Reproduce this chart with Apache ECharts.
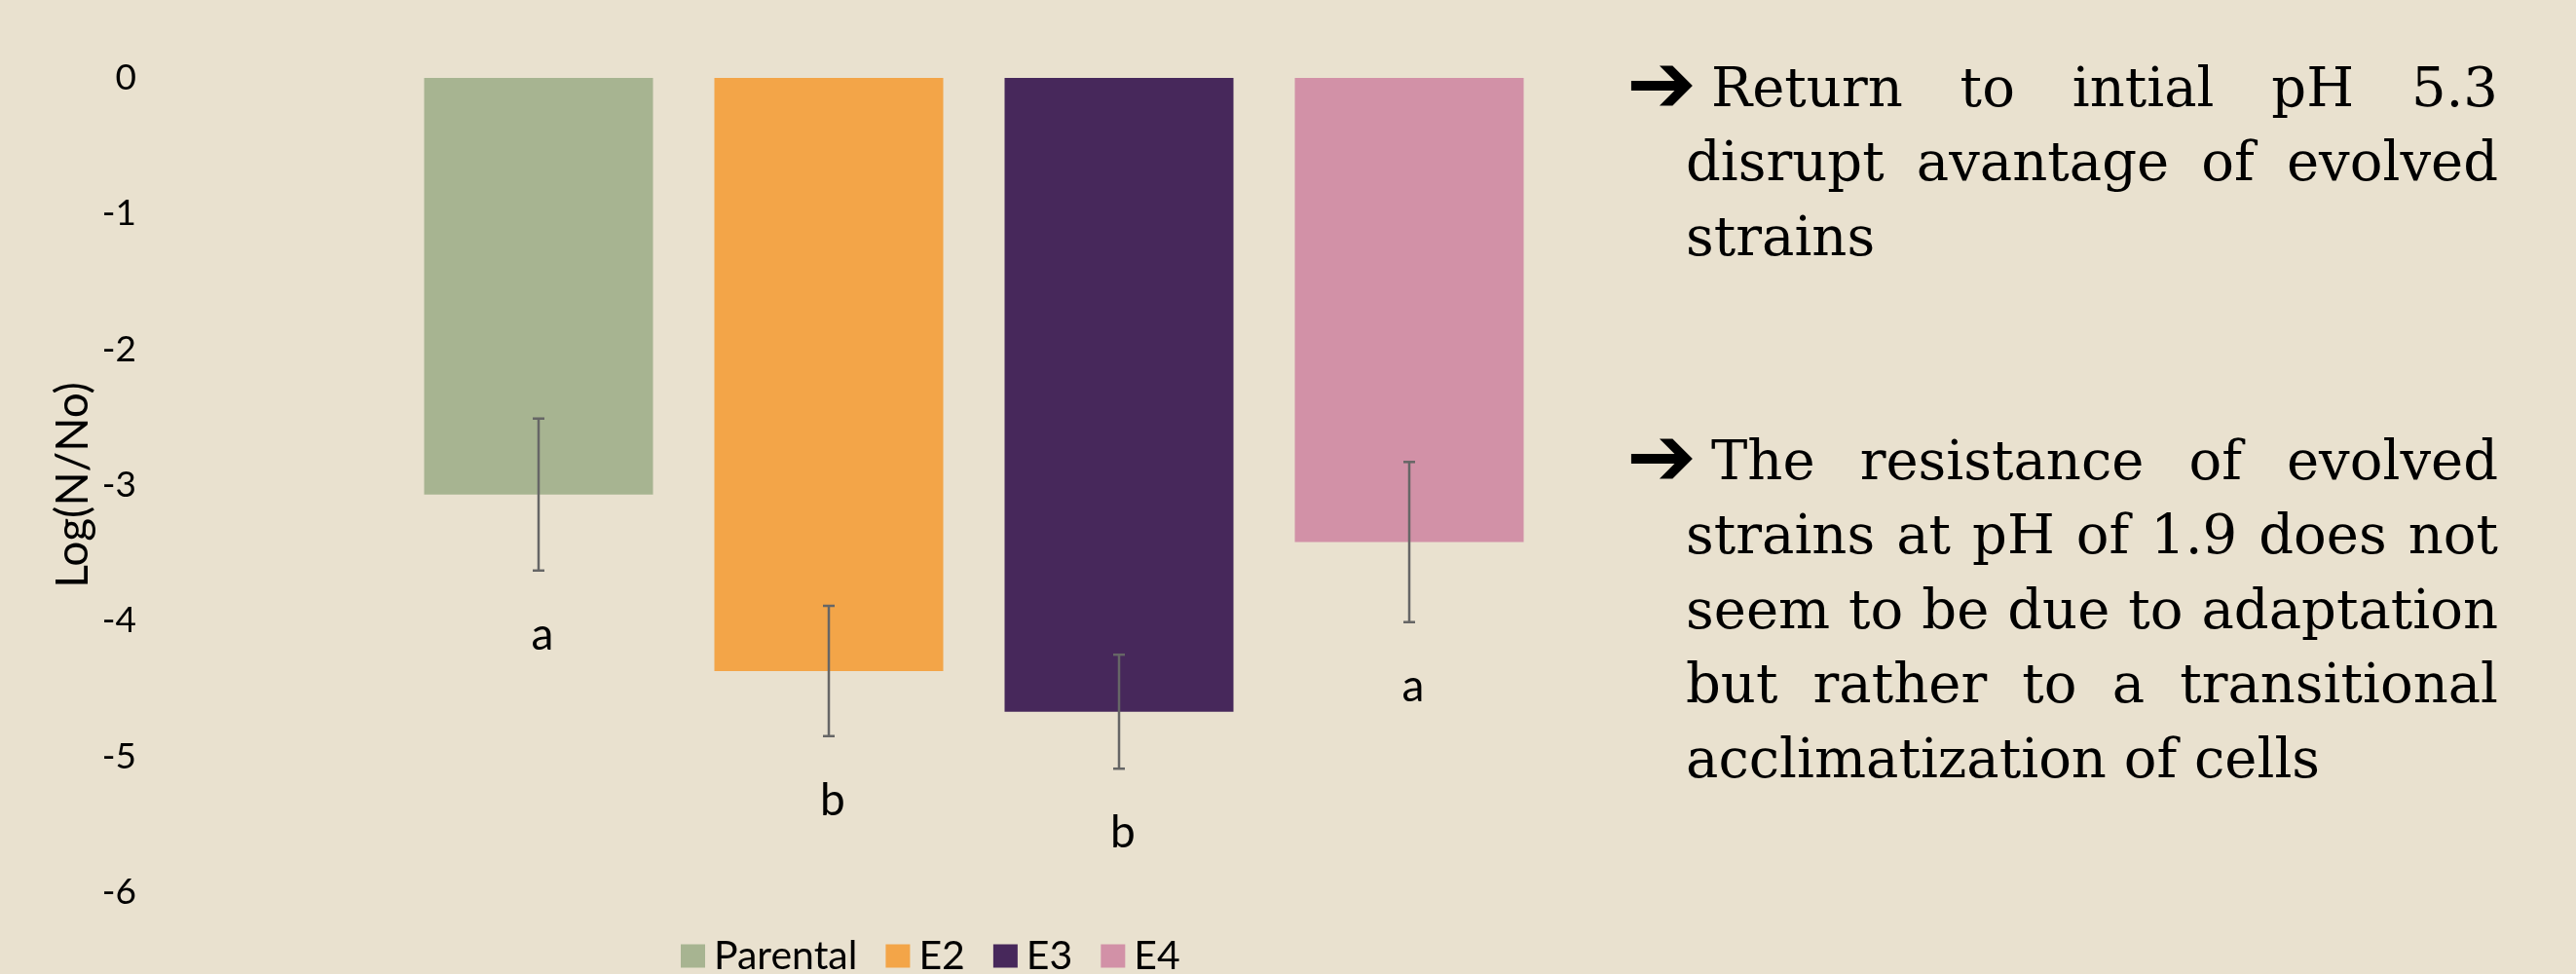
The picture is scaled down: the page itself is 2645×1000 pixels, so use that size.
<!DOCTYPE html>
<html>
<head>
<meta charset="utf-8">
<script src="https://cdn.jsdelivr.net/npm/echarts@6/dist/echarts.min.js"></script>
<style>
html,body{margin:0;padding:0;background:#E9E1CF;}
#chart{width:2645px;height:1000px;}
</style>
</head>
<body>
<div id="chart"></div>
<script>
// ---- data ----
const categories = ['Parental', 'E2', 'E3', 'E4'];
const means = [-3.07, -4.37, -4.67, -3.42];
const errors = [0.56, 0.48, 0.42, 0.59];
const letters = ['a', 'b', 'b', 'a'];
const yTicks = [0, -1, -2, -3, -4, -5, -6];
const palette = ['#A7B491', '#F3A548', '#47285B', '#D291A7'];

const para1 = ['Return to intial pH 5.3', 'disrupt avantage of evolved', 'strains'];
const para2 = ['The resistance of evolved', 'strains at pH of 1.9 does not', 'seem to be due to adaptation', 'but rather to a transitional', 'acclimatization of cells'];

// ---- layout of right-hand text ----
const serif = '"DejaVu Serif"';
const fs = 56;
const font = fs + 'px ' + serif;
const measureCtx = document.createElement('canvas').getContext('2d');
measureCtx.font = font;
function w(t) { return measureCtx.measureText(t).width; }

const textRight = 2565;
const firstIndent = 1757;
const bodyIndent = 1731;
const lineStep = 76.5;

function paragraph(lines, firstBaseline) {
  const els = [];
  lines.forEach(function (line, li) {
    const left = li === 0 ? firstIndent : bodyIndent;
    const baseline = firstBaseline + li * lineStep;
    const y = baseline - 0.30 * fs;
    const last = li === lines.length - 1;
    const words = line.split(' ');
    if (last || words.length < 2) {
      els.push({type: 'text', x: left, y: y, style: {text: line, font: font, fill: '#000', verticalAlign: 'middle', align: 'left'}});
    } else {
      const total = words.reduce(function (s, wd) { return s + w(wd); }, 0);
      const gap = (textRight - left - total) / (words.length - 1);
      let x = left;
      words.forEach(function (wd) {
        els.push({type: 'text', x: x, y: y, style: {text: wd, font: font, fill: '#000', verticalAlign: 'middle', align: 'left'}});
        x += w(wd) + gap;
      });
    }
  });
  els.push({type: 'text', x: 1670, y: firstBaseline - 18, style: {text: '\u2794', font: 'bold 86px "DejaVu Sans"', fill: '#000', verticalAlign: 'middle', align: 'left'}});
  return els;
}

const graphics = paragraph(para1, 111).concat(paragraph(para2, 494));

// ---- chart ----
const chart = echarts.init(document.getElementById('chart'), null, {renderer: 'canvas'});

const barSeries = categories.map(function (name, i) {
  return {
    name: name,
    type: 'bar',
    barWidth: 235,
    barGap: '-100%',
    itemStyle: {color: palette[i]},
    data: categories.map(function (c, j) { return j === i ? means[i] : '-'; })
  };
});

const errData = means.map(function (m, i) { return [i, m, errors[i], letters[i]]; });

const errSeries = {
  type: 'custom',
  name: 'error',
  data: errData,
  z: 10,
  renderItem: function (params, api) {
    const i = api.value(0), m = api.value(1), e = api.value(2);
    const top = api.coord([i, m + e]);
    const bot = api.coord([i, m - e]);
    const cap = 6;
    const st = {stroke: '#666', lineWidth: 2.5};
    return {
      type: 'group',
      children: [
        {type: 'line', shape: {x1: top[0], y1: top[1], x2: bot[0], y2: bot[1]}, style: st},
        {type: 'line', shape: {x1: top[0] - cap, y1: top[1], x2: top[0] + cap, y2: top[1]}, style: st},
        {type: 'line', shape: {x1: bot[0] - cap, y1: bot[1], x2: bot[0] + cap, y2: bot[1]}, style: st},
        {type: 'text', x: bot[0] + 4, y: bot[1] + 66, style: {text: letters[i], font: '46px Lato', fill: '#000', align: 'center', verticalAlign: 'middle'}}
      ]
    };
  }
};

chart.setOption({
  backgroundColor: '#E9E1CF',
  animation: false,
  grid: {left: 404, right: 2645 - 1596, top: 80, bottom: 84, containLabel: false},
  legend: {
    data: categories,
    left: 699,
    top: 961,
    padding: 0,
    icon: 'rect',
    itemWidth: 25,
    itemHeight: 24,
    itemGap: 29,
    textStyle: {fontFamily: 'Lato', fontSize: 41, color: '#000', padding: [0, 0, 0, 4]}
  },
  xAxis: {
    type: 'category',
    data: categories,
    axisLine: {show: false},
    axisTick: {show: false},
    axisLabel: {show: false},
    splitLine: {show: false}
  },
  yAxis: {
    type: 'value',
    min: -6,
    max: 0,
    interval: 1,
    name: 'Log(N/No)',
    nameLocation: 'middle',
    nameGap: 306,
    nameRotate: 90,
    nameTextStyle: {fontFamily: 'Lato', fontSize: 46, color: '#000'},
    axisLine: {show: false},
    axisTick: {show: false},
    splitLine: {show: false},
    axisLabel: {
      margin: 264,
      fontFamily: 'Lato',
      fontSize: 37,
      color: '#000',
      formatter: function (v) { return yTicks.indexOf(v) >= 0 ? String(v) : ''; }
    }
  },
  graphic: graphics,
  series: barSeries.concat([errSeries])
});
</script>
</body>
</html>
